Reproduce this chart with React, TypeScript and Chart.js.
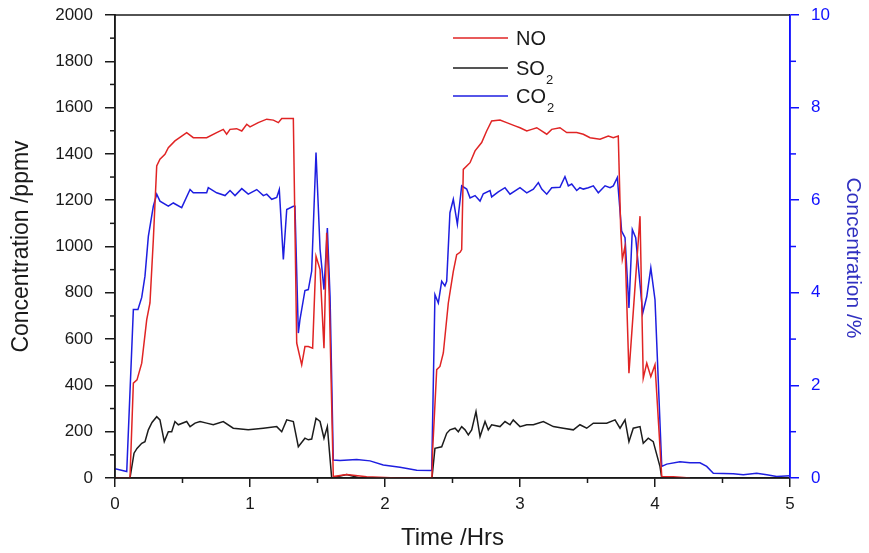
import React, { useEffect, useRef } from "react";
import { Chart, registerables } from "chart.js";

Chart.register(...registerables);

// ---------------- DATA ----------------
const seriesLabels = ["NO", "SO", "CO"];
const seriesSubs = ["", "2", "2"];

const xTickValues = [0, 1, 2, 3, 4, 5];
const yLeftRange = [0, 2000];
const yRightRange = [0, 10];

const noTime = [0, 0.111, 0.136, 0.163, 0.198, 0.235, 0.259, 0.284, 0.309, 0.333, 0.37, 0.395, 0.444, 0.531, 0.58, 0.679, 0.753, 0.802, 0.827, 0.852, 0.901, 0.939, 0.976, 1.0, 1.061, 1.124, 1.173, 1.21, 1.235, 1.321, 1.346, 1.383, 1.407, 1.432, 1.464, 1.489, 1.519, 1.548, 1.568, 1.587, 1.617, 1.716, 1.864, 2.087, 2.348, 2.353, 2.383, 2.407, 2.432, 2.469, 2.506, 2.531, 2.556, 2.568, 2.58, 2.63, 2.667, 2.716, 2.753, 2.79, 2.852, 2.901, 2.963, 3.0, 3.05, 3.087, 3.124, 3.198, 3.235, 3.296, 3.346, 3.42, 3.469, 3.519, 3.593, 3.654, 3.691, 3.728, 3.746, 3.758, 3.778, 3.807, 3.889, 3.913, 3.939, 3.969, 4.0, 4.05, 4.136, 4.259];
const noVals = [0, 0, 410, 424, 496, 684, 756, 1030, 1348, 1377, 1398, 1427, 1456, 1492, 1470, 1470, 1492, 1506, 1485, 1506, 1509, 1499, 1528, 1517, 1535, 1550, 1546, 1535, 1553, 1553, 583, 489, 568, 568, 561, 958, 900, 561, 1059, 785, 6, 15, 5, 0, 0, 121, 468, 482, 540, 756, 893, 965, 975, 987, 1333, 1362, 1413, 1449, 1499, 1542, 1546, 1535, 1521, 1513, 1499, 1506, 1513, 1485, 1506, 1513, 1492, 1492, 1485, 1470, 1463, 1477, 1470, 1477, 1074, 944, 1001, 453, 1131, 431, 496, 438, 489, 6, 5, 0];

const so2Time = [0, 0.111, 0.141, 0.163, 0.198, 0.222, 0.247, 0.274, 0.309, 0.333, 0.365, 0.395, 0.42, 0.444, 0.469, 0.531, 0.556, 0.593, 0.63, 0.679, 0.728, 0.802, 0.876, 0.987, 1.099, 1.198, 1.235, 1.272, 1.321, 1.358, 1.407, 1.432, 1.457, 1.489, 1.519, 1.548, 1.573, 1.605, 1.716, 1.815, 2.348, 2.37, 2.42, 2.457, 2.481, 2.519, 2.543, 2.568, 2.593, 2.617, 2.642, 2.674, 2.704, 2.741, 2.765, 2.79, 2.852, 2.889, 2.926, 2.95, 3.0, 3.05, 3.099, 3.173, 3.247, 3.321, 3.395, 3.444, 3.494, 3.543, 3.642, 3.704, 3.741, 3.778, 3.807, 3.839, 3.889, 3.913, 3.95, 3.987, 4.037, 4.05, 4.259];
const so2Vals = [0, 0, 107, 128, 150, 157, 208, 240, 265, 251, 157, 200, 200, 244, 230, 244, 222, 237, 244, 237, 230, 244, 215, 208, 215, 222, 200, 251, 244, 135, 172, 165, 168, 258, 244, 172, 222, 0, 15, 0, 0, 128, 135, 193, 208, 215, 200, 222, 208, 186, 208, 287, 179, 244, 208, 230, 222, 244, 230, 251, 222, 230, 230, 244, 222, 215, 208, 230, 215, 237, 237, 251, 215, 251, 157, 215, 222, 150, 172, 157, 49, 0, 0];

const co2Time = [0, 0.087, 0.136, 0.17, 0.198, 0.222, 0.247, 0.284, 0.309, 0.333, 0.395, 0.432, 0.494, 0.556, 0.58, 0.679, 0.691, 0.753, 0.815, 0.852, 0.889, 0.939, 0.987, 1.05, 1.099, 1.124, 1.161, 1.198, 1.217, 1.247, 1.272, 1.321, 1.333, 1.358, 1.37, 1.407, 1.432, 1.457, 1.489, 1.519, 1.548, 1.573, 1.593, 1.617, 1.667, 1.79, 1.889, 1.987, 2.111, 2.235, 2.346, 2.37, 2.395, 2.42, 2.444, 2.457, 2.481, 2.506, 2.536, 2.568, 2.605, 2.63, 2.667, 2.704, 2.728, 2.778, 2.79, 2.839, 2.889, 2.926, 3.0, 3.05, 3.099, 3.136, 3.161, 3.198, 3.235, 3.296, 3.333, 3.358, 3.383, 3.42, 3.444, 3.469, 3.506, 3.543, 3.58, 3.63, 3.667, 3.691, 3.721, 3.753, 3.778, 3.807, 3.832, 3.857, 3.909, 3.939, 3.969, 4.0, 4.05, 4.087, 4.185, 4.259, 4.333, 4.383, 4.432, 4.58, 4.654, 4.753, 4.828, 4.901, 5.0];
const co2Vals = [0.2, 0.14, 3.64, 3.64, 3.9, 4.36, 5.22, 5.87, 6.13, 5.98, 5.87, 5.94, 5.84, 6.23, 6.16, 6.16, 6.27, 6.16, 6.1, 6.21, 6.1, 6.25, 6.13, 6.23, 6.1, 6.13, 6.02, 6.06, 6.23, 4.72, 5.8, 5.87, 5.87, 3.13, 3.42, 4.05, 4.07, 4.47, 7.03, 4.94, 4.07, 5.4, 3.92, 0.39, 0.38, 0.4, 0.37, 0.28, 0.23, 0.17, 0.16, 3.96, 3.78, 4.25, 4.15, 4.25, 5.73, 6.02, 5.48, 6.31, 6.24, 6.05, 6.1, 5.98, 6.14, 6.21, 6.07, 6.18, 6.27, 6.13, 6.27, 6.16, 6.24, 6.38, 6.24, 6.13, 6.27, 6.28, 6.51, 6.31, 6.35, 6.21, 6.27, 6.24, 6.27, 6.31, 6.16, 6.31, 6.27, 6.31, 6.49, 5.33, 5.19, 3.67, 5.37, 5.19, 3.56, 3.92, 4.54, 3.85, 0.25, 0.3, 0.35, 0.33, 0.33, 0.25, 0.1, 0.09, 0.07, 0.1, 0.07, 0.03, 0.05];

// ---------------- STYLE ----------------
const FONT = "'Liberation Sans', Arial, Helvetica, sans-serif";
const RED = "#e02424";
const BLACK = "#1c1c1c";
const BLUE = "#1e1ee0";
const AXIS_BLACK = "#1a1a1a";
const AXIS_BLUE = "#1010ff";
const TEXT = "#1a1a1a";

function toPoints(t: number[], v: number[]) {
  return t.map((x, i) => ({ x, y: v[i] }));
}

const framePlugin = {
  id: "frame",
  afterDatasetsDraw(chart: any) {
    const { ctx, chartArea, scales } = chart;
    const { left, right, top, bottom } = chartArea;
    ctx.save();
    ctx.lineWidth = 1.5;
    ctx.lineCap = "butt";
    const seg = (x1: number, y1: number, x2: number, y2: number, c: string) => {
      ctx.strokeStyle = c;
      ctx.beginPath();
      ctx.moveTo(x1, y1);
      ctx.lineTo(x2, y2);
      ctx.stroke();
    };
    // minor ticks
    const xs = scales.x;
    for (let v = xs.min + 0.5; v < xs.max; v += 1) {
      const px = xs.getPixelForValue(v);
      seg(px, bottom, px, bottom + 5, AXIS_BLACK);
    }
    const ys = scales.y;
    for (let v = ys.min + 100; v < ys.max; v += 200) {
      const py = ys.getPixelForValue(v);
      seg(left - 5, py, left, py, AXIS_BLACK);
    }
    const y2 = scales.y2;
    for (let v = y2.min + 1; v < y2.max; v += 2) {
      const py = y2.getPixelForValue(v);
      seg(right, py, right + 6, py, AXIS_BLUE);
    }
    // frame
    seg(left, top, right, top, AXIS_BLACK);
    seg(left - 0.75, bottom, right, bottom, AXIS_BLACK);
    seg(left, top - 0.75, left, bottom + 0.75, AXIS_BLACK);
    seg(right, top, right, bottom, AXIS_BLUE);
    ctx.restore();
  },
  afterDraw(chart: any) {
    const { ctx } = chart;
    ctx.save();
    // right axis title
    ctx.translate(853, 258);
    ctx.rotate(Math.PI / 2);
    ctx.font = `21px ${FONT}`;
    ctx.fillStyle = "#3030c0";
    ctx.textAlign = "center";
    ctx.textBaseline = "middle";
    ctx.fillText("Concentration /%", 0, 0);
    ctx.restore();

    // legend
    const colors = [RED, BLACK, BLUE];
    const rows = [38, 68, 96];
    ctx.save();
    seriesLabels.forEach((lab, i) => {
      const y = rows[i];
      ctx.strokeStyle = colors[i];
      ctx.lineWidth = 1.5;
      ctx.beginPath();
      ctx.moveTo(453, y);
      ctx.lineTo(508, y);
      ctx.stroke();
      ctx.font = `20px ${FONT}`;
      ctx.fillStyle = TEXT;
      ctx.textAlign = "left";
      ctx.textBaseline = "middle";
      ctx.fillText(lab, 516, y + 1);
      const w = ctx.measureText(lab).width;
      if (seriesSubs[i]) {
        ctx.font = `13px ${FONT}`;
        ctx.fillText(seriesSubs[i], 516 + w + 1, y + 12);
      }
    });
    ctx.restore();
  },
};

export default function App() {
  const ref = useRef<HTMLCanvasElement | null>(null);
  useEffect(() => {
    document.body.style.margin = "0";
    const canvas = ref.current;
    if (!canvas) return;
    const chart = new Chart(canvas, {
      type: "line",
      data: {
        datasets: [
          {
            label: "NO",
            data: toPoints(noTime, noVals),
            borderColor: RED,
            borderWidth: 1.5,
            pointRadius: 0,
            tension: 0,
            yAxisID: "y",
          },
          {
            label: "SO2",
            data: toPoints(so2Time, so2Vals),
            borderColor: BLACK,
            borderWidth: 1.5,
            pointRadius: 0,
            tension: 0,
            yAxisID: "y",
          },
          {
            label: "CO2",
            data: toPoints(co2Time, co2Vals),
            borderColor: BLUE,
            borderWidth: 1.5,
            pointRadius: 0,
            tension: 0,
            yAxisID: "y2",
          },
        ],
      },
      options: {
        animation: false,
        responsive: false,
        maintainAspectRatio: false,
        parsing: false as any,
        normalized: true,
        layout: { padding: { top: 15, left: 0, right: 0, bottom: 0 } },
        plugins: {
          legend: { display: false },
          tooltip: { enabled: false },
        },
        scales: {
          x: {
            type: "linear",
            min: xTickValues[0],
            max: xTickValues[xTickValues.length - 1],
            afterBuildTicks: (s: any) => {
              s.ticks = xTickValues.map((v) => ({ value: v }));
            },
            ticks: {
              font: { family: FONT, size: 17 },
              color: TEXT,
              padding: 7,
              maxRotation: 0,
              callback: (v: any) => String(v),
            },
            grid: {
              display: true,
              drawOnChartArea: false,
              drawTicks: true,
              tickLength: 9,
              color: AXIS_BLACK,
              lineWidth: 1.5,
            },
            border: { display: true, color: AXIS_BLACK, width: 1.5 },
            title: {
              display: true,
              text: "Time /Hrs",
              font: { family: FONT, size: 24 },
              color: TEXT,
              padding: { top: 0, bottom: 0 },
            },
            afterFit: (s: any) => {
              s.height = 75;
              s.paddingLeft = 0;
              s.paddingRight = 0;
            },
          } as any,
          y: {
            type: "linear",
            position: "left",
            min: yLeftRange[0],
            max: yLeftRange[1],
            ticks: {
              stepSize: 200,
              font: { family: FONT, size: 17 },
              color: TEXT,
              padding: 12,
              callback: (v: any) => String(v),
            },
            grid: {
              display: true,
              drawOnChartArea: false,
              drawTicks: true,
              tickLength: 10,
              color: AXIS_BLACK,
              lineWidth: 1.5,
            },
            border: { display: true, color: AXIS_BLACK, width: 1.5 },
            title: {
              display: true,
              text: "Concentration /ppmv",
              font: { family: FONT, size: 23 },
              color: TEXT,
              padding: { top: 8, bottom: 0 },
            },
            afterFit: (s: any) => {
              s.width = 115;
              s.paddingTop = 0;
              s.paddingBottom = 0;
            },
          } as any,
          y2: {
            type: "linear",
            position: "right",
            min: yRightRange[0],
            max: yRightRange[1],
            ticks: {
              stepSize: 2,
              font: { family: FONT, size: 17 },
              color: AXIS_BLUE,
              padding: 12,
              callback: (v: any) => String(v),
            },
            grid: {
              display: true,
              drawOnChartArea: false,
              drawTicks: true,
              tickLength: 9,
              color: AXIS_BLUE,
              lineWidth: 1.5,
            },
            border: { display: true, color: AXIS_BLUE, width: 1.5 },
            afterFit: (s: any) => {
              s.width = 79;
              s.paddingTop = 0;
              s.paddingBottom = 0;
            },
          } as any,
        },
      },
      plugins: [framePlugin],
    });
    return () => chart.destroy();
  }, []);
  return (
    <div style={{ width: 869, height: 553, background: "#fff" }}>
      <canvas ref={ref} width={869} height={553} style={{ display: "block" }} />
    </div>
  );
}
